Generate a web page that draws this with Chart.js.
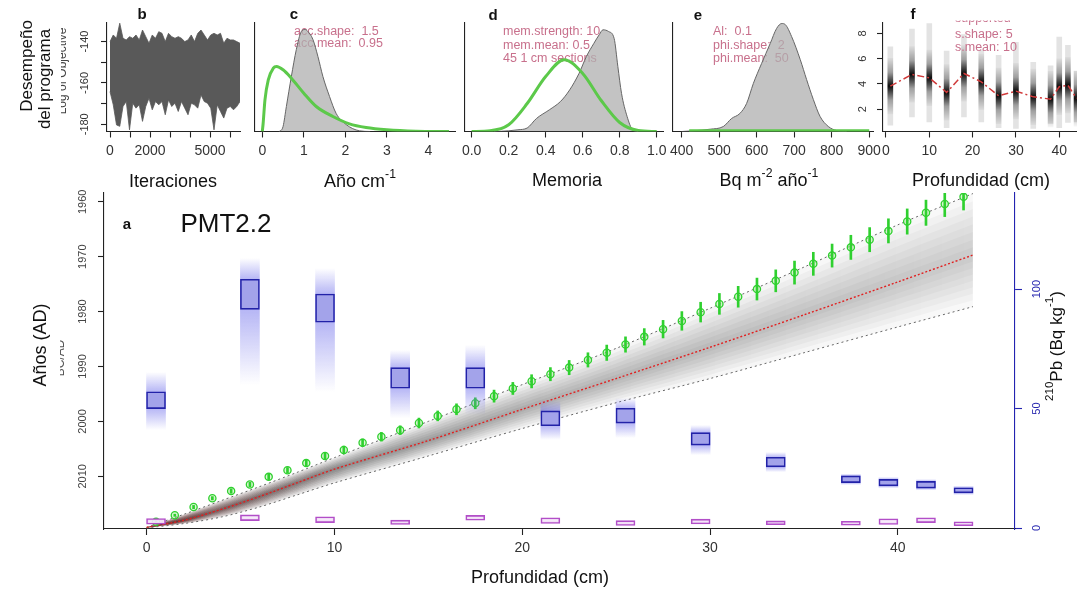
<!DOCTYPE html>
<html>
<head>
<meta charset="utf-8">
<title>PMT2.2</title>
<script src="https://cdn.jsdelivr.net/npm/chart.js@4.4.1/dist/chart.umd.min.js"></script>
<style>
  body { margin: 0; background: #fff; }
  #wrap { position: relative; width: 1077px; height: 590px; }
  #wrap canvas { position: absolute; left: 0; top: 0; }
</style>
</head>
<body>
<div id="wrap">
  <canvas id="main" width="1077" height="590"></canvas>
  <canvas id="pb" width="1077" height="590"></canvas>
  <canvas id="pc" width="1077" height="590"></canvas>
  <canvas id="pd" width="1077" height="590"></canvas>
  <canvas id="pe" width="1077" height="590"></canvas>
  <canvas id="pf" width="1077" height="590"></canvas>
</div>
<script>
// ---------- panel b: traza del log-objetivo ----------
const traceStep = 162.5; // iteraciones entre columnas
const traceHigh = [-140.0, -136.8, -138.4, -131.1, -138.4, -139.2, -137.6, -138.4, -136.8, -139.2, -134.4,
  -137.6, -140.8, -136.8, -138.4, -135.2, -136.0, -140.0, -136.0, -137.6, -138.4, -137.6, -138.4, -140.0,
  -139.2, -136.8, -140.0, -136.0, -134.4, -136.8, -139.2, -136.8, -136.0, -136.8, -136.0, -140.8, -138.4,
  -139.2, -139.2, -140.0, -140.8];
const traceLow = [-164.2, -170.6, -180.3, -181.0, -171.4, -169.0, -182.7, -169.8, -172.2, -170.6, -178.6,
  -171.4, -167.4, -173.0, -169.0, -170.6, -169.0, -175.4, -168.2, -171.4, -169.8, -173.8, -169.0, -172.2,
  -175.4, -169.8, -170.6, -172.2, -165.8, -169.0, -169.8, -172.2, -182.7, -170.6, -173.8, -177.0, -172.2,
  -171.4, -173.0, -171.4, -169.0];
const bXTicks = [0, 1000, 2000, 3000, 4000, 5000, 6000];
const bXLabels = ['0', '', '2000', '', '', '5000', ''];
const bYTicks = [-180, -170, -160, -150, -140];
const bYLabels = [-140, -160, -180];

// ---------- panel c: tasa de acumulación ----------
const cPostX = [0.4, 0.45, 0.5, 0.58, 0.7, 0.82, 0.94, 1.03, 1.1, 1.22, 1.34, 1.46, 1.62, 1.78, 2.02, 2.34, 2.6];
const cPostY = [0, 1, 5, 25, 55, 82, 100, 102, 100, 92, 75, 55, 35, 18, 7, 0.7, 0];
const cPriorX = [0, 0.02, 0.064, 0.144, 0.264, 0.344, 0.5, 0.7, 1.0, 1.3, 1.7, 2.1, 2.5, 3.0, 3.7, 4.5];
const cPriorY = [0, 8, 31.7, 51.7, 63.3, 65, 61.7, 53.3, 38.3, 25, 15, 7.7, 4, 1.7, 0.3, 0];
const cXTicks = [0, 1, 2, 3, 4];

// ---------- panel d: memoria ----------
const dPostX = [0.12, 0.2, 0.25, 0.3, 0.35, 0.42, 0.48, 0.53, 0.58, 0.62, 0.66, 0.69, 0.71, 0.74, 0.77, 0.79, 0.81, 0.84, 0.87, 0.9];
const dPostY = [0, 0.7, 1.7, 3.5, 13, 21.7, 30, 41.7, 58, 75, 88, 97, 101.7, 100, 93, 65, 38, 15, 1.7, 0];
const dPriorX = [0, 0.1, 0.2, 0.3, 0.4, 0.5, 0.6, 0.7, 0.8, 0.9, 1.0];
const dPriorY = [0, 0.7, 6.7, 28, 55, 71.7, 58, 31, 9, 1, 0];
const dXTicks = [0, 0.2, 0.4, 0.6, 0.8, 1.0];
const dXLabels = ['0.0', '0.2', '0.4', '0.6', '0.8', '1.0'];

// ---------- panel e: flujo de 210Pb ----------
const ePostX = [400, 431, 476, 511, 533, 555, 573, 591, 613, 636, 653, 667, 676, 693, 716, 733, 751, 769, 791, 813, 840];
const ePostY = [0, 0.7, 2.3, 5, 13, 18, 28, 48, 68, 88, 103, 108, 107, 95, 72, 52, 32, 15, 5, 1, 0];
const ePriorX = [420, 900];
const ePriorY = [0.7, 0.7];
const eXTicks = [400, 500, 600, 700, 800, 900];

// ---------- panel f: 210Pb soportado ----------
const fDepth = [1, 6, 10, 14, 18, 22, 26, 30, 34, 38, 40, 42, 44];
const fMean = [3.83, 4.75, 4.48, 3.33, 4.83, 4.17, 3.06, 3.43, 2.98, 2.8, 3.78, 3.9, 2.86];
const fLo = [0.75, 1.4, 1.0, 0.54, 1.4, 1.0, 0.54, 0.49, 0.49, 0.88, 0.54, 0.96, 1.0];
const fHi = [6.93, 8.33, 8.78, 6.6, 7.9, 6.67, 6.27, 7.3, 5.7, 5.43, 7.7, 7.06, 5.0];
const fXTicks = [0, 10, 20, 30, 40];
const fYTicks = [2, 4, 6, 8];

// ---------- panel a: modelo de edad ----------
const ageDepth = [0, 2, 4, 6, 8, 10, 15, 20, 25, 30, 35, 40, 44];
const ageMean = [2019.3, 2018.0, 2016.0, 2013.7, 2011.2, 2008.7, 2003.5, 1997.8, 1992.2, 1986.5, 1980.6, 1974.6, 1969.7];
const ageOld = [2019.3, 2016.9, 2014.4, 2011.9, 2009.3, 2006.6, 2000.0, 1993.3, 1986.7, 1979.4, 1971.9, 1964.2, 1958.5];
const ageYoung = [2019.4, 2018.6, 2017.4, 2015.6, 2013.4, 2011.2, 2006.3, 2001.3, 1996.6, 1992.2, 1987.5, 1982.8, 1979.1];

const greenDepth = [0.5, 1.5, 2.5, 3.5, 4.5, 5.5, 6.5, 7.5, 8.5, 9.5, 10.5, 11.5, 12.5, 13.5, 14.5, 15.5,
  16.5, 17.5, 18.5, 19.5, 20.5, 21.5, 22.5, 23.5, 24.5, 25.5, 26.5, 27.5, 28.5, 29.5, 30.5, 31.5, 32.5,
  33.5, 34.5, 35.5, 36.5, 37.5, 38.5, 39.5, 40.5, 41.5, 42.5, 43.5];
const greenAge = [2018.3, 2017.1, 2015.6, 2014.0, 2012.7, 2011.5, 2010.1, 2008.9, 2007.6, 2006.3, 2005.2,
  2003.9, 2002.8, 2001.6, 2000.3, 1999.0, 1997.8, 1996.7, 1995.4, 1994.0, 1992.7, 1991.4, 1990.2, 1988.8,
  1987.5, 1986.0, 1984.6, 1983.2, 1981.7, 1980.1, 1978.6, 1977.3, 1975.9, 1974.4, 1972.9, 1971.3, 1969.8,
  1968.3, 1966.9, 1965.3, 1963.6, 1962.0, 1960.4, 1959.1];
const greenErr = [0.2, 0.2, 0.3, 0.3, 0.4, 0.4, 0.5, 0.5, 0.6, 0.6, 0.7, 0.7, 0.8, 0.8, 0.9, 0.9, 1.0, 1.0,
  1.1, 1.1, 1.2, 1.2, 1.3, 1.3, 1.4, 1.4, 1.5, 1.6, 1.7, 1.8, 1.9, 1.9, 2.0, 2.0, 2.1, 2.1, 2.1, 2.2, 2.2,
  2.2, 2.3, 2.3, 2.3, 2.4];

const pbDepth = [0.5, 5.5, 9.5, 13.5, 17.5, 21.5, 25.5, 29.5, 33.5, 37.5, 39.5, 41.5, 43.5];
const pbValue = [53.5, 97.8, 92.0, 62.8, 62.8, 45.9, 47.0, 37.3, 27.6, 20.4, 19.0, 18.1, 15.8];
const pbErr = [3.5, 6.3, 5.9, 4.3, 4.3, 3.1, 3.1, 2.6, 2.0, 1.4, 1.35, 1.4, 1.05];
const pbHaloHi = [65.3, 113, 108.8, 74.5, 76.6, 53.6, 54.4, 43.1, 31.8, 22.8, 21.4, 20.5, 17.8];
const pbHaloLo = [41.0, 59.8, 56.9, 46.0, 47.3, 36.8, 37.7, 30.5, 23.4, 18.0, 16.6, 15.7, 13.8];
const suppValue = [2.8, 4.3, 3.5, 2.4, 4.3, 3.1, 2.1, 2.7, 2.2, 2.0, 2.7, 3.3, 1.8];
const suppErr = [1.2, 1.2, 1.2, 0.9, 1.0, 1.2, 1.0, 1.0, 0.8, 0.8, 1.2, 1.0, 0.8];

const xTicksMain = [0, 10, 20, 30, 40];
const yearTicks = [1960, 1970, 1980, 1990, 2000, 2010];
const pbTicks = [0, 50, 100];

// ---------- utilidades ----------
const W = 1077, H = 590;
const FONT = "'Liberation Sans', Arial, Helvetica, sans-serif";
Chart.defaults.font.family = FONT;
const ROSE = '#c8708c';
const GREEN = '#5cc94a';

const pts = (xs, ys) => xs.map((x, i) => ({ x, y: ys[i] }));
const spans = (xs, lo, hi) => xs.map((x, i) => ({ x, y: [lo[i], hi[i]] }));

// texto con superíndices; parts = [[texto, esSup], ...]
function txt(ctx, parts, x, y, o = {}) {
  if (typeof parts === 'string') parts = [[parts]];
  const size = o.size || 14;
  const f = s => (o.bold ? 'bold ' : '') + s + 'px ' + FONT;
  ctx.save();
  if (o.clip) { ctx.beginPath(); ctx.rect(o.clip[0], o.clip[1], o.clip[2], o.clip[3]); ctx.clip(); }
  ctx.translate(x, y);
  if (o.rot) ctx.rotate(o.rot);
  ctx.fillStyle = o.color || '#111';
  ctx.textBaseline = 'middle';
  ctx.textAlign = 'left';
  let w = 0;
  for (const [t, s] of parts) { ctx.font = f(s ? size * 0.68 : size); w += ctx.measureText(t).width; }
  let cx = o.align === 'left' ? 0 : -w / 2;
  for (const [t, s] of parts) {
    ctx.font = f(s ? size * 0.68 : size);
    ctx.fillText(t, cx, s ? -size * 0.4 : 0);
    cx += ctx.measureText(t).width;
  }
  ctx.restore();
}

const UP = -Math.PI / 2;
function yTickText(chart, id, values, x, o) {
  const s = chart.scales[id];
  values.forEach(v => txt(chart.ctx, String(v), x, s.getPixelForValue(v), Object.assign({ rot: UP }, o)));
}

const X_BAND = 40; // alto reservado bajo cada eje x para sus etiquetas

function axis(o) {
  const col = o.color || '#222';
  return {
    type: 'linear', min: o.min, max: o.max, reverse: !!o.reverse, position: o.position, offset: false,
    afterFit: s => { if (s.isHorizontal()) s.height = o.band ?? X_BAND; else s.width = 0; },
    afterBuildTicks: s => { s.ticks = o.ticks.map(v => ({ value: v })); },
    grid: { display: true, offset: false, drawOnChartArea: false, drawTicks: true, tickLength: o.tickLen ?? 6,
      tickWidth: 1.1, tickColor: col },
    border: { display: true, color: col, width: 1.1 },
    ticks: o.labels
      ? { display: true, autoSkip: false, maxRotation: 0, minRotation: 0, padding: o.pad ?? 5, color: '#333',
          font: { size: 14 }, callback: (v, i) => o.labels[i] }
      : { display: false }
  };
}

function makeChart(id, area, scales, datasets, before, after) {
  const band = scales.x.afterFitBand ?? X_BAND;
  return new Chart(document.getElementById(id), {
    type: 'line',
    data: { datasets },
    options: {
      responsive: false, animation: false, events: [],
      layout: { padding: { left: area[0], top: area[1], right: W - area[2], bottom: Math.max(H - area[3] - band, 0) } },
      plugins: { legend: { display: false }, tooltip: { enabled: false } },
      elements: { point: { radius: 0 }, line: { tension: 0 } },
      scales
    },
    plugins: [{
      id: 'deco',
      beforeDatasetsDraw: c => { if (before) before(c); },
      afterDraw: c => { if (after) after(c); }
    }]
  });
}

function density(xs, ys) {
  return { data: pts(xs, ys), borderColor: '#666', borderWidth: 1, backgroundColor: 'rgba(175,175,175,0.75)',
    fill: 'origin', cubicInterpolationMode: 'monotone', order: 2 };
}
function prior(xs, ys) {
  return { data: pts(xs, ys), borderColor: GREEN, borderWidth: 3, fill: false, cubicInterpolationMode: 'monotone', order: 1 };
}
const densY = () => axis({ min: 0, max: 108.5, ticks: [0], tickLen: 0 });

// ---------- b ----------
const traceIter = traceHigh.map((_, i) => i * traceStep);
makeChart('pb', [107, 23, 240, 131.5], {
  x: axis({ min: -150, max: 6500, ticks: bXTicks, labels: bXLabels }),
  y: axis({ min: -183.5, max: -131, ticks: bYTicks })
}, [
  { data: pts(traceIter, traceHigh), borderColor: '#595959', borderWidth: 0.8, fill: false },
  { data: pts(traceIter, traceLow), borderColor: '#595959', borderWidth: 0.8, fill: '-1', backgroundColor: '#595959' }
], null, c => {
  const ctx = c.ctx;
  txt(ctx, 'b', 142, 15, { size: 15, bold: true });
  yTickText(c, 'y', bYLabels, 85, { size: 11, color: '#333' });
  txt(ctx, 'Log of Objective', 63, 71, { size: 12, color: '#444', rot: UP, clip: [61, 20, 20, 110] });
  txt(ctx, 'Iteraciones', 173, 182, { size: 18 });
  txt(ctx, 'Desempeño', 27, 66, { size: 17, rot: UP });
  txt(ctx, 'del programa', 45, 79, { size: 17, rot: UP });
});

// ---------- c ----------
makeChart('pc', [255, 23, 455, 131.5], {
  x: axis({ min: -0.176, max: 4.643, ticks: cXTicks, labels: cXTicks.map(String) }),
  y: densY()
}, [density(cPostX, cPostY), prior(cPriorX, cPriorY)], c => {
  txt(c.ctx, 'acc.shape:  1.5', 294, 32, { size: 12.5, color: ROSE, align: 'left' });
  txt(c.ctx, 'acc.mean:  0.95', 294, 44, { size: 12.5, color: ROSE, align: 'left' });
}, c => {
  txt(c.ctx, 'c', 294, 15, { size: 15, bold: true });
  txt(c.ctx, [['Año cm'], ['-1', 1]], 360, 182, { size: 18 });
});

// ---------- d ----------
makeChart('pd', [465, 23, 663, 131.5], {
  x: axis({ min: -0.036, max: 1.034, ticks: dXTicks, labels: dXLabels }),
  y: densY()
}, [density(dPostX, dPostY), prior(dPriorX, dPriorY)], c => {
  txt(c.ctx, 'mem.strength: 10', 503, 32, { size: 12.5, color: ROSE, align: 'left' });
  txt(c.ctx, 'mem.mean: 0.5', 503, 45.5, { size: 12.5, color: ROSE, align: 'left' });
  txt(c.ctx, '45 1 cm sections', 503, 59, { size: 12.5, color: ROSE, align: 'left' });
}, c => {
  txt(c.ctx, 'd', 493, 16, { size: 15, bold: true });
  txt(c.ctx, 'Memoria', 567, 181, { size: 18 });
});

// ---------- e ----------
makeChart('pe', [673, 23, 873, 131.5], {
  x: axis({ min: 376.8, max: 910.1, ticks: eXTicks, labels: eXTicks.map(String) }),
  y: densY()
}, [density(ePostX, ePostY), prior(ePriorX, ePriorY)], c => {
  txt(c.ctx, 'Al:  0.1', 713, 32, { size: 12.5, color: ROSE, align: 'left' });
  txt(c.ctx, 'phi.shape:  2', 713, 45.5, { size: 12.5, color: ROSE, align: 'left' });
  txt(c.ctx, 'phi.mean:  50', 713, 59, { size: 12.5, color: ROSE, align: 'left' });
}, c => {
  txt(c.ctx, 'e', 698, 16, { size: 15, bold: true });
  txt(c.ctx, [['Bq m'], ['-2', 1], [' año'], ['-1', 1]], 769, 181, { size: 18 });
});

// ---------- f ----------
const CORE = 2.2; // semiancho del núcleo oscuro de cada barra
function coreFill(ctx) {
  const ch = ctx.chart;
  if (!ch.chartArea || ctx.dataIndex === undefined) return 'rgba(0,0,0,0.5)';
  const y = ch.scales.y, i = ctx.dataIndex;
  const g = ch.ctx.createLinearGradient(0, y.getPixelForValue(fMean[i] + CORE), 0, y.getPixelForValue(fMean[i] - CORE));
  g.addColorStop(0, 'rgba(0,0,0,0.04)');
  g.addColorStop(0.25, 'rgba(0,0,0,0.3)');
  g.addColorStop(0.5, 'rgba(0,0,0,0.95)');
  g.addColorStop(0.75, 'rgba(0,0,0,0.3)');
  g.addColorStop(1, 'rgba(0,0,0,0.04)');
  return g;
}
makeChart('pf', [883, 23, 1077, 131.5], {
  x: axis({ min: -0.69, max: 44.1, ticks: fXTicks, labels: fXTicks.map(String) }),
  y: axis({ min: 0.24, max: 8.82, ticks: fYTicks })
}, [
  { data: pts(fDepth, fMean), borderColor: '#d03a3a', borderWidth: 1.5, borderDash: [7, 3, 2, 3], fill: false, order: 1 },
  { type: 'bar', data: spans(fDepth, fMean.map(m => m - CORE), fMean.map(m => m + CORE)), backgroundColor: coreFill,
    barThickness: 5, grouped: false, borderWidth: 0, order: 2 },
  { type: 'bar', data: spans(fDepth, fLo, fHi), backgroundColor: 'rgba(0,0,0,0.11)', barThickness: 5,
    grouped: false, borderWidth: 0, order: 3 }
], null, c => {
  const ctx = c.ctx;
  txt(ctx, 'f', 913, 15, { size: 15, bold: true });
  yTickText(c, 'y', fYTicks, 863, { size: 11, color: '#333' });
  txt(ctx, 'supported', 955, 19, { size: 12.5, color: ROSE, align: 'left', clip: [940, 20.5, 137, 10] });
  txt(ctx, 's.shape: 5', 955, 35, { size: 12.5, color: ROSE, align: 'left' });
  txt(ctx, 's.mean: 10', 955, 48, { size: 12.5, color: ROSE, align: 'left' });
  txt(ctx, 'Profundidad (cm)', 981, 181, { size: 18 });
});

// ---------- a: gráfico principal ----------
function shade(chart) {
  if (!chart.chartArea) return 'rgba(0,0,0,0.05)';
  const x = chart.scales.x;
  const g = chart.ctx.createLinearGradient(x.getPixelForValue(0), 0, x.getPixelForValue(44), 0);
  g.addColorStop(0, 'rgba(70,0,0,0.22)');
  g.addColorStop(0.08, 'rgba(50,10,10,0.12)');
  g.addColorStop(0.25, 'rgba(0,0,0,0.068)');
  g.addColorStop(0.5, 'rgba(0,0,0,0.045)');
  g.addColorStop(1, 'rgba(0,0,0,0.026)');
  return g;
}
function haloFill(ctx) {
  const ch = ctx.chart;
  if (!ch.chartArea || ctx.dataIndex === undefined) return 'rgba(110,110,230,0.3)';
  const s = ch.scales.y1, i = ctx.dataIndex;
  const top = s.getPixelForValue(pbHaloHi[i]), bot = s.getPixelForValue(pbHaloLo[i]);
  const bt = s.getPixelForValue(pbValue[i] + pbErr[i]), bb = s.getPixelForValue(pbValue[i] - pbErr[i]);
  const span = bot - top;
  const g = ch.ctx.createLinearGradient(0, top, 0, bot);
  g.addColorStop(0, 'rgba(110,110,235,0)');
  g.addColorStop(Math.min(Math.max((bt - top) / span, 0), 1), 'rgba(110,110,235,0.5)');
  g.addColorStop(Math.min(Math.max((bb - top) / span, 0), 1), 'rgba(110,110,235,0.5)');
  g.addColorStop(1, 'rgba(110,110,235,0)');
  return g;
}

// capas de sombreado entre la media y los límites del modelo de edad
const SHADE_STEPS = [0.125, 0.25, 0.375, 0.5, 0.625, 0.75, 0.875, 1];
const mainSets = [];
SHADE_STEPS.forEach(f => {
  const up = ageMean.map((m, i) => m + f * (ageOld[i] - m));
  const dn = ageMean.map((m, i) => m + f * (ageYoung[i] - m));
  mainSets.push({ data: pts(ageDepth, up), borderWidth: 0, fill: false, tension: 0.3, order: 20 });
  mainSets.push({ data: pts(ageDepth, dn), borderWidth: 0, fill: '-1', tension: 0.3, backgroundColor: c => shade(c.chart), order: 20 });
});
mainSets.push(
  { data: pts(ageDepth, ageOld), borderColor: '#666', borderWidth: 1, borderDash: [2, 3], fill: false, tension: 0.3, order: 7 },
  { data: pts(ageDepth, ageYoung), borderColor: '#666', borderWidth: 1, borderDash: [2, 3], fill: false, tension: 0.3, order: 7 },
  { data: pts(ageDepth, ageMean), borderColor: '#e02020', borderWidth: 1.4, borderDash: [2, 2], fill: false, tension: 0.3, order: 6 },
  { data: pts(greenDepth, greenAge), showLine: false, pointRadius: 3.6, pointBorderColor: '#2fd02f', pointBorderWidth: 1.3,
    pointBackgroundColor: 'rgba(150,230,130,0.35)', order: 5 },
  { type: 'bar', data: spans(greenDepth, greenAge.map((a, i) => a - greenErr[i]), greenAge.map((a, i) => a + greenErr[i])),
    backgroundColor: '#2fd02f', barThickness: 2, grouped: false, borderWidth: 0, order: 4 },
  { type: 'bar', yAxisID: 'y1', data: spans(pbDepth, pbHaloLo, pbHaloHi), backgroundColor: haloFill,
    barThickness: 19, grouped: false, borderWidth: 0, order: 3 },
  { type: 'bar', yAxisID: 'y1', data: spans(pbDepth, pbValue.map((v, i) => v - pbErr[i]), pbValue.map((v, i) => v + pbErr[i])),
    backgroundColor: '#a3a3ea', borderColor: '#2222a8', borderWidth: 1.6, borderSkipped: false,
    barThickness: 19, grouped: false, order: 2 },
  { type: 'bar', yAxisID: 'y1', data: spans(pbDepth, suppValue.map((v, i) => v - suppErr[i]), suppValue.map((v, i) => v + suppErr[i])),
    backgroundColor: 'rgba(245,232,248,0.9)', borderColor: '#b24ec8', borderWidth: 1.6, borderSkipped: false,
    barThickness: 19, grouped: false, order: 1 }
);

const mainX = axis({ min: -2.27, max: 46.24, ticks: xTicksMain, labels: xTicksMain.map(String), band: H - 529 });
mainX.afterFitBand = H - 529;
makeChart('main', [104, 193, 1015, 529], {
  x: mainX,
  y: axis({ min: 1958.4, max: 2019.6, reverse: true, ticks: yearTicks, position: 'left' }),
  y1: axis({ min: -0.4, max: 140.2, ticks: pbTicks, position: 'right', color: '#2323b0', tickLen: 7 })
}, mainSets, null, c => {
  const ctx = c.ctx;
  yTickText(c, 'y', yearTicks, 83, { size: 11, color: '#444' });
  yTickText(c, 'y1', pbTicks, 1037, { size: 11, color: '#2828b0' });
  txt(ctx, 'a', 127, 225, { size: 15, bold: true });
  txt(ctx, 'PMT2.2', 226, 225, { size: 26 });
  txt(ctx, 'Años (AD)', 41, 345, { size: 18, rot: UP });
  txt(ctx, 'BC/AD', 61, 358, { size: 12, color: '#555', rot: UP, clip: [60, 330, 20, 60] });
  txt(ctx, [['210', 1], ['Pb (Bq kg'], ['-1', 1], [')']], 1057, 346, { size: 17, rot: UP });
  txt(ctx, 'Profundidad (cm)', 540, 578, { size: 18 });
});
</script>
</body>
</html>
